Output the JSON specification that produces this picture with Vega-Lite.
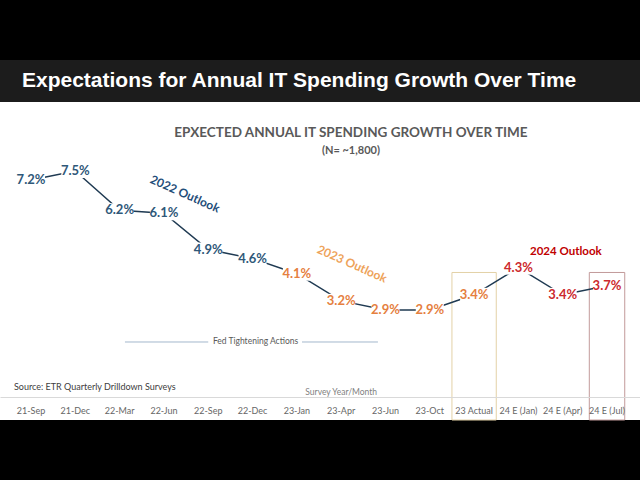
{
  "$schema": "https://vega.github.io/schema/vega-lite/v6.json",
  "width": 640,
  "height": 360,
  "autosize": "none",
  "padding": {"top": 60, "bottom": 60, "left": 0, "right": 0},
  "background": "#000000",
  "view": {"fill": null, "stroke": null},
  "config": {"font": "Lato"},
  "title": {
    "text": "Expectations for Annual IT Spending Growth Over Time",
    "anchor": "start",
    "frame": "group",
    "orient": "top",
    "color": "#ffffff",
    "font": "Liberation Sans",
    "fontSize": 21,
    "fontWeight": "bold",
    "baseline": "alphabetic",
    "dx": 22,
    "offset": -48
  },
  "data": {
    "values": [
      {"cat": "21-Sep", "value": 7.2, "label": "7.2%", "outlook": "2022"},
      {"cat": "21-Dec", "value": 7.5, "label": "7.5%", "outlook": "2022"},
      {"cat": "22-Mar", "value": 6.2, "label": "6.2%", "outlook": "2022"},
      {"cat": "22-Jun", "value": 6.1, "label": "6.1%", "outlook": "2022"},
      {"cat": "22-Sep", "value": 4.9, "label": "4.9%", "outlook": "2022"},
      {"cat": "22-Dec", "value": 4.6, "label": "4.6%", "outlook": "2022"},
      {"cat": "23-Jan", "value": 4.1, "label": "4.1%", "outlook": "2023"},
      {"cat": "23-Apr", "value": 3.2, "label": "3.2%", "outlook": "2023"},
      {"cat": "23-Jun", "value": 2.9, "label": "2.9%", "outlook": "2023"},
      {"cat": "23-Oct", "value": 2.9, "label": "2.9%", "outlook": "2023"},
      {"cat": "23 Actual", "value": 3.4, "label": "3.4%", "outlook": "2023"},
      {"cat": "24 E (Jan)", "value": 4.3, "label": "4.3%", "outlook": "2024"},
      {"cat": "24 E (Apr)", "value": 3.4, "label": "3.4%", "outlook": "2024"},
      {"cat": "24 E (Jul)", "value": 3.7, "label": "3.7%", "outlook": "2024"}
    ]
  },
  "layer": [
    {
      "data": {"values": [{}]},
      "mark": {"type": "rect", "color": "#1c1c1c"},
      "encoding": {
        "y": {"datum": 11.176, "type": "quantitative", "axis": null},
        "y2": {"datum": 9.785}
      }
    },
    {
      "data": {"values": [{}]},
      "mark": {"type": "rect", "color": "#ffffff"},
      "encoding": {
        "y": {"datum": 9.785, "type": "quantitative", "axis": null},
        "y2": {"datum": -0.745}
      }
    },
    {
      "data": {"values": [{}]},
      "mark": {"type": "rect", "fillOpacity": 0, "stroke": "#e3d1a6", "strokeWidth": 1},
      "encoding": {
        "x": {"datum": "23 Actual", "type": "nominal"},
        "y": {"datum": 4.14, "type": "quantitative", "axis": null},
        "y2": {"datum": -0.745}
      }
    },
    {
      "data": {"values": [{}]},
      "mark": {"type": "rect", "fillOpacity": 0, "stroke": "#c29a9a", "strokeWidth": 1, "width": {"band": 0.8}},
      "encoding": {
        "x": {"datum": "24 E (Jul)", "type": "nominal"},
        "y": {"datum": 4.14, "type": "quantitative", "axis": null},
        "y2": {"datum": -0.745}
      }
    },
    {
      "data": {"values": [{}]},
      "mark": {"type": "rule", "color": "#a3b8cc", "strokeWidth": 1},
      "encoding": {
        "x": {"datum": "22-Mar", "type": "nominal", "bandPosition": 0.62},
        "x2": {"datum": "22-Sep"},
        "y": {"datum": 1.838, "type": "quantitative", "axis": null}
      }
    },
    {
      "data": {"values": [{}]},
      "mark": {"type": "rule", "color": "#a3b8cc", "strokeWidth": 1},
      "encoding": {
        "x": {"datum": "23-Jan", "type": "nominal", "bandPosition": 0.616},
        "x2": {"datum": "23-Jun", "bandPosition": 0.33},
        "y": {"datum": 1.838, "type": "quantitative", "axis": null}
      }
    },
    {
      "mark": {"type": "line", "color": "#1f3a52", "strokeWidth": 1.5},
      "encoding": {
        "x": {
          "field": "cat",
          "type": "nominal",
          "sort": null,
          "scale": {
            "type": "band",
            "domain": ["21-Sep", "21-Dec", "22-Mar", "22-Jun", "22-Sep", "22-Dec", "23-Jan", "23-Apr", "23-Jun", "23-Oct", "23 Actual", "24 E (Jan)", "24 E (Apr)", "24 E (Jul)"],
            "paddingInner": 0,
            "paddingOuter": 0.222,
            "align": 0.45
          },
          "axis": {
            "orient": "bottom",
            "offset": -23,
            "bandPosition": 0.5,
            "title": null,
            "ticks": false,
            "domainColor": "#d9d9d9",
            "domainWidth": 1,
            "labelFont": "Lato",
            "labelFontSize": 9,
            "labelColor": "#666666",
            "labelPadding": 9,
            "labelAngle": 0,
            "labelAlign": "center",
            "labelBaseline": "top",
            "grid": false
          }
        },
        "y": {
          "field": "value",
          "type": "quantitative",
          "scale": {"domain": [-0.745, 11.176], "nice": false, "zero": false},
          "axis": null
        }
      }
    },
    {
      "mark": {"type": "point", "shape": "M-1,-0.5H1V0.5H-1Z", "filled": true, "fill": "#ffffff", "fillOpacity": 1, "strokeWidth": 0, "size": 784},
      "encoding": {
        "x": {"field": "cat", "type": "nominal"},
        "y": {"field": "value", "type": "quantitative", "axis": null}
      }
    },
    {
      "mark": {"type": "text", "font": "Lato", "fontSize": 13, "fontWeight": "bold"},
      "encoding": {
        "x": {"field": "cat", "type": "nominal"},
        "y": {"field": "value", "type": "quantitative", "axis": null},
        "text": {"field": "label"},
        "color": {
          "field": "outlook",
          "type": "nominal",
          "scale": {"domain": ["2022", "2023", "2024"], "range": ["#2f5879", "#e5803f", "#cc2a2e"]},
          "legend": null
        }
      }
    },
    {
      "data": {"values": [{}]},
      "mark": {"type": "text", "text": "EPXECTED ANNUAL IT SPENDING GROWTH OVER TIME", "font": "Lato", "fontSize": 13.5, "fontWeight": "bold", "color": "#595959"},
      "encoding": {
        "x": {"datum": "23-Apr", "type": "nominal", "bandPosition": 0.72},
        "y": {"datum": 8.759, "type": "quantitative", "axis": null}
      }
    },
    {
      "data": {"values": [{}]},
      "mark": {"type": "text", "text": "(N= ~1,800)", "font": "Lato", "fontSize": 11, "fontWeight": "bold", "color": "#595959"},
      "encoding": {
        "x": {"datum": "23-Apr", "type": "nominal", "bandPosition": 0.72},
        "y": {"datum": 8.163, "type": "quantitative", "axis": null}
      }
    },
    {
      "data": {"values": [{}]},
      "mark": {"type": "text", "text": "2022 Outlook", "font": "Lato", "fontSize": 12, "fontWeight": "bold", "color": "#1f4e79", "angle": 24},
      "encoding": {
        "x": {"datum": "22-Jun", "type": "nominal", "bandPosition": 0.975},
        "y": {"datum": 6.739, "type": "quantitative", "axis": null}
      }
    },
    {
      "data": {"values": [{}]},
      "mark": {"type": "text", "text": "2023 Outlook", "font": "Lato", "fontSize": 12, "fontWeight": "bold", "color": "#eea35a", "angle": 24},
      "encoding": {
        "x": {"datum": "23-Apr", "type": "nominal", "bandPosition": 0.745},
        "y": {"datum": 4.421, "type": "quantitative", "axis": null}
      }
    },
    {
      "data": {"values": [{}]},
      "mark": {"type": "text", "text": "2024 Outlook", "font": "Lato", "fontSize": 11.5, "fontWeight": "bold", "color": "#c00000"},
      "encoding": {
        "x": {"datum": "24 E (Apr)", "type": "nominal", "bandPosition": 0.57},
        "y": {"datum": 4.818, "type": "quantitative", "axis": null}
      }
    },
    {
      "data": {"values": [{}]},
      "mark": {"type": "text", "text": "Fed Tightening Actions", "font": "Lato", "fontSize": 8.5, "color": "#595959"},
      "encoding": {
        "x": {"datum": "22-Dec", "type": "nominal", "bandPosition": 0.567},
        "y": {"datum": 1.871, "type": "quantitative", "axis": null}
      }
    },
    {
      "data": {"values": [{}]},
      "mark": {"type": "text", "text": "Source: ETR Quarterly Drilldown Surveys", "font": "Lato", "fontSize": 9, "color": "#404040", "align": "left"},
      "encoding": {
        "x": {"datum": "21-Sep", "type": "nominal", "bandPosition": 0.116},
        "y": {"datum": 0.348, "type": "quantitative", "axis": null}
      }
    },
    {
      "data": {"values": [{}]},
      "mark": {"type": "text", "text": "Survey Year/Month", "font": "Lato", "fontSize": 8.5, "color": "#7f7f7f"},
      "encoding": {
        "x": {"datum": "23-Apr", "type": "nominal", "bandPosition": 0.5},
        "y": {"datum": 0.182, "type": "quantitative", "axis": null}
      }
    }
  ]
}
